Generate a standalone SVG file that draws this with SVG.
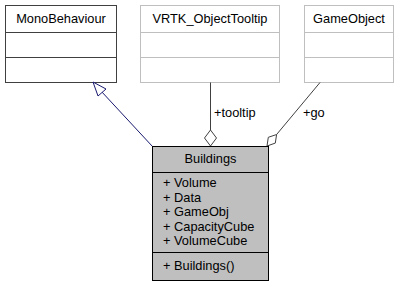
<svg xmlns="http://www.w3.org/2000/svg" width="404" height="287" viewBox="0 0 404 287">
  <style>
    text { font-family: "Liberation Sans", Arial, sans-serif; font-size: 12.8px; fill: #000; }
    .mid { text-anchor: middle; }
    .ext { fill: #fff; stroke: #404040; stroke-width: 1; }
    .ext-light { fill: #fff; stroke: #bfbfbf; stroke-width: 1; }
    .main { fill: #bfbfbf; stroke: #000; stroke-width: 1; }
    .edge-inh { stroke: #191970; stroke-width: 1; fill: none; }
    .edge-use { stroke: #404040; stroke-width: 1; fill: none; }
    .diamond { fill: #fff; stroke: #404040; stroke-width: 1; }
    .arrow { fill: #fff; stroke: #191970; stroke-width: 1; }
  </style>

  <!-- base class -->
  <g id="MonoBehaviour">
    <rect class="ext" x="5.5" y="5.5" width="111" height="77"/>
    <line class="ext" x1="5.5" y1="32.5" x2="116.5" y2="32.5"/>
    <line class="ext" x1="5.5" y1="57.5" x2="116.5" y2="57.5"/>
    <text class="mid" x="61" y="23">MonoBehaviour</text>
  </g>

  <g id="VRTK_ObjectTooltip">
    <rect class="ext-light" x="140.5" y="5.5" width="139" height="77"/>
    <line class="ext-light" x1="140.5" y1="32.5" x2="279.5" y2="32.5"/>
    <line class="ext-light" x1="140.5" y1="57.5" x2="279.5" y2="57.5"/>
    <text class="mid" x="210" y="23">VRTK_ObjectTooltip</text>
  </g>

  <g id="GameObject">
    <rect class="ext-light" x="304.5" y="5.5" width="89" height="77"/>
    <line class="ext-light" x1="304.5" y1="32.5" x2="393.5" y2="32.5"/>
    <line class="ext-light" x1="304.5" y1="57.5" x2="393.5" y2="57.5"/>
    <text class="mid" x="349" y="23">GameObject</text>
  </g>

  <!-- connectors -->
  <g id="edges">
    <line class="edge-inh" x1="152.5" y1="146.5" x2="101" y2="91"/>
    <polygon class="arrow" points="93,82 106,89 98,96"/>

    <line class="edge-use" x1="210.5" y1="82.5" x2="210.5" y2="130"/>
    <polygon class="diamond" points="210.5,130 216.5,138 210.5,146 204.5,138"/>
    <text x="214" y="117">+tooltip</text>

    <line class="edge-use" x1="320" y1="82.5" x2="276.6" y2="134.5"/>
    <polygon class="diamond" points="276.6,134.5 275.3,143.1 267,146 268.3,137.3"/>
    <text x="303" y="117">+go</text>
  </g>

  <g id="Buildings">
    <rect class="main" x="152.5" y="146.5" width="116" height="134"/>
    <line class="main" x1="152.5" y1="172.5" x2="268.5" y2="172.5"/>
    <line class="main" x1="152.5" y1="252.5" x2="268.5" y2="252.5"/>
    <text class="mid" x="210.5" y="163">Buildings</text>
    <text x="163" y="187">+ Volume</text>
    <text x="163" y="201.5">+ Data</text>
    <text x="163" y="216">+ GameObj</text>
    <text x="163" y="230.5">+ CapacityCube</text>
    <text x="163" y="245">+ VolumeCube</text>
    <text x="163" y="270">+ Buildings()</text>
  </g>
</svg>
